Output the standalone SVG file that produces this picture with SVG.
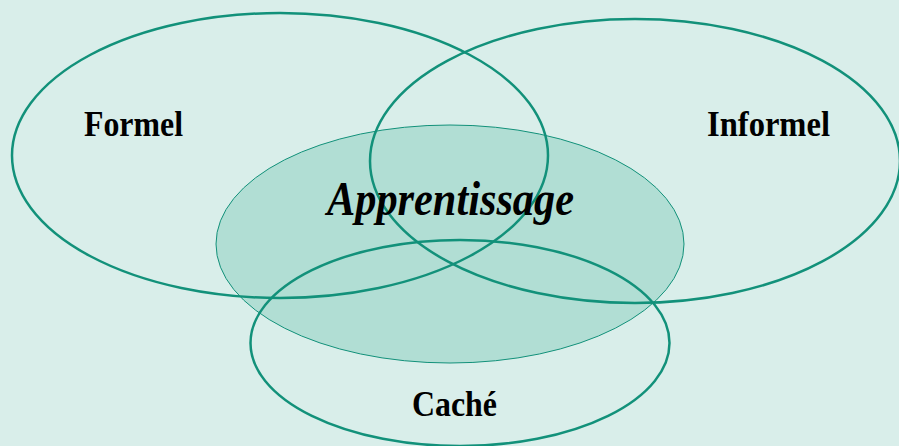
<svg xmlns="http://www.w3.org/2000/svg" width="899" height="446" viewBox="0 0 899 446">
<style>
.ring{fill:none;stroke:#12917a;stroke-width:2.5}
.core{fill:#b1ded4;stroke:#12917a;stroke-width:1}
.lbl{font-family:"Liberation Serif","Times New Roman",serif;font-weight:bold;fill:#000}
</style>
<rect width="899" height="446" fill="#d9eeea"/>
<g id="apprentissage">
<ellipse class="core" cx="450" cy="244" rx="234" ry="119"/>
</g>
<g id="formel">
<ellipse class="ring" cx="280" cy="155.5" rx="268" ry="142.5"/>
<text class="lbl" x="84" y="136" font-size="36" textLength="99" lengthAdjust="spacingAndGlyphs">Formel</text>
</g>
<g id="informel">
<ellipse class="ring" cx="635" cy="161" rx="265" ry="142"/>
<text class="lbl" x="707" y="136" font-size="36" textLength="123" lengthAdjust="spacingAndGlyphs">Informel</text>
</g>
<g id="cache">
<ellipse class="ring" cx="460" cy="343" rx="209.5" ry="103"/>
<text class="lbl" x="412" y="416" font-size="36" textLength="85" lengthAdjust="spacingAndGlyphs">Caché</text>
</g>
<g id="apprentissage-label">
<text class="lbl" x="327" y="215" font-size="48" font-style="italic" textLength="247" lengthAdjust="spacingAndGlyphs">Apprentissage</text>
</g>
<g id="connectors"/>
</svg>
